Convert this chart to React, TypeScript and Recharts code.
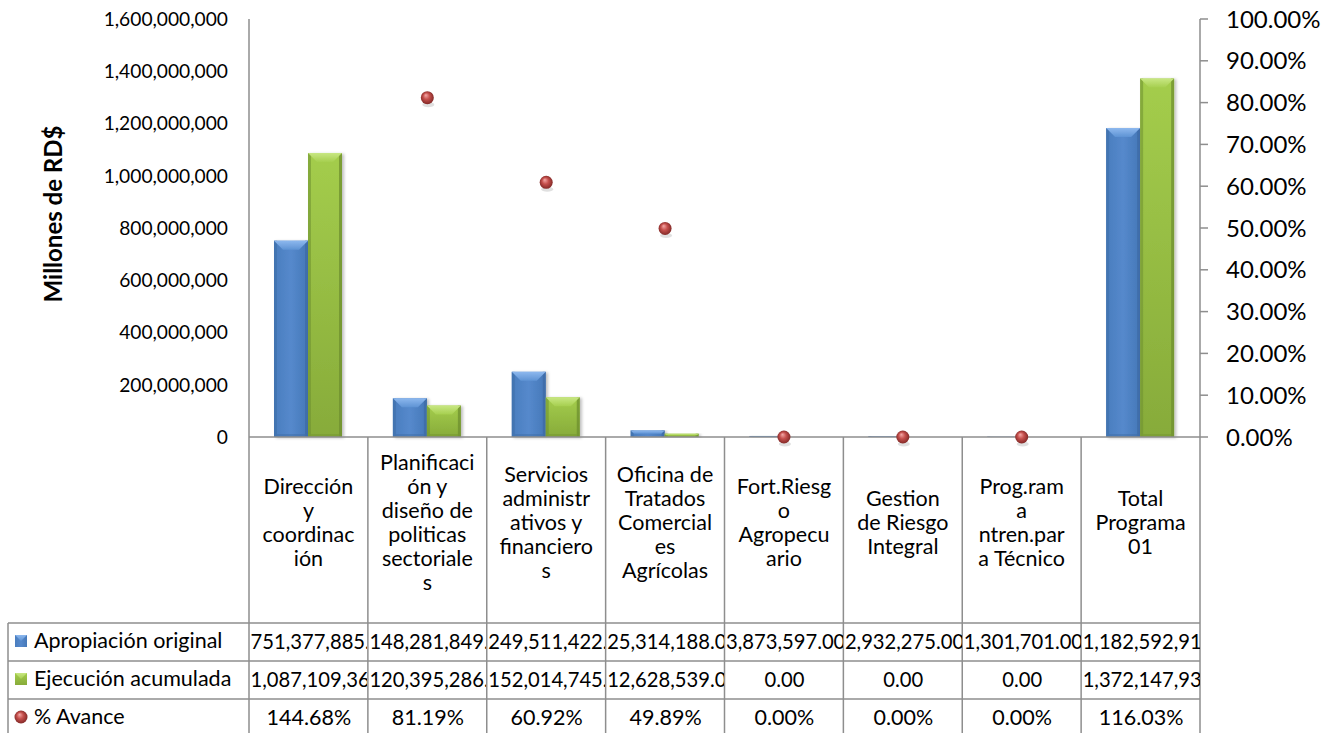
import React from 'react';
import { ComposedChart, Bar, Scatter, XAxis, YAxis } from 'recharts';

// ---------- data ----------
const categories = [
  'Dirección y coordinación',
  'Planificación y diseño de politicas sectoriales',
  'Servicios administrativos y financieros',
  'Oficina de Tratados Comerciales Agrícolas',
  'Fort.Riesgo Agropecuario',
  'Gestion de Riesgo Integral',
  'Prog.rama ntren.para Técnico',
  'Total Programa 01',
];
const categoryLines = [
  ['Dirección', 'y', 'coordinac', 'ión'],
  ['Planificaci', 'ón y', 'diseño de', 'politicas', 'sectoriale', 's'],
  ['Servicios', 'administr', 'ativos y', 'financiero', 's'],
  ['Oficina de', 'Tratados', 'Comercial', 'es', 'Agrícolas'],
  ['Fort.Riesg', 'o', 'Agropecu', 'ario'],
  ['Gestion', 'de Riesgo', 'Integral'],
  ['Prog.ram', 'a', 'ntren.par', 'a Técnico'],
  ['Total', 'Programa', '01'],
];
const apropiacion = [751377885, 148281849, 249511422, 25314188, 3873597, 2932275, 1301701, 1182592917];
const ejecucion = [1087109360, 120395286, 152014745, 12628539, 0, 0, 0, 1372147930];
const avance = [1.4468, 0.8119, 0.6092, 0.4989, 0, 0, 0, 1.1603];
const leftTicks = [0, 200000000, 400000000, 600000000, 800000000, 1000000000, 1200000000, 1400000000, 1600000000];
const rightTicks = [0, 0.1, 0.2, 0.3, 0.4, 0.5, 0.6, 0.7, 0.8, 0.9, 1];
const seriesNames = ['Apropiación original', 'Ejecución acumulada', '% Avance'];

const data = categories.map((cat, i) => ({
  cat,
  apropiacion: apropiacion[i],
  ejecucion: ejecucion[i],
  avance: avance[i],
  avancePlot: avance[i] <= 1 ? avance[i] : null,
}));

// ---------- layout ----------
const W = 1337;
const H = 733;
const PLOT_LEFT = 249;
const PLOT_RIGHT = 1200;
const PLOT_TOP = 19;
const AXIS_Y = 437;
const TABLE_TOP = 623;
const ROW_H = 38;
const TABLE_LEFT = 8;
const LEFT_AXIS_W = 150;
const RIGHT_AXIS_W = 120;
const FONT = 'Lato, "Open Sans", sans-serif';
const FS_AXIS = 19.2;
const FS_NUM = 20.2;
const FS_TEXT = 21.5;
const FS_RIGHT = 24;
const GRID = '#8E8E8E';

const fmtMoney = (v: number) =>
  v.toLocaleString('en-US', { minimumFractionDigits: 2, maximumFractionDigits: 2 });
const fmtPct = (v: number) => (v * 100).toFixed(2) + '%';
const fmtInt = (v: number) => v.toLocaleString('en-US');

const palettes = {
  blue: { body: 'url(#blueBody)', top: 'url(#blueTop)', edge: '#3D6BA6', bottom: '#3E6DA8' },
  green: { body: 'url(#greenBody)', top: 'url(#greenTop)', edge: '#6E8F2F', bottom: '#73952F' },
};

const BevelBar = (props: any) => {
  const { x, y, width, height, pal } = props;
  if (!height || height <= 0 || !width) return <g />;
  const p = palettes[pal as 'blue' | 'green'];
  const b = Math.min(9, height / 2);
  const e = Math.min(3, width / 4);
  return (
    <g filter="url(#barShadow)">
      <rect x={x} y={y} width={width} height={height} fill={p.body} />
      <rect x={x} y={y} width={e} height={height} fill={p.edge} opacity={0.55} />
      <rect x={x + width - e} y={y} width={e} height={height} fill={p.edge} opacity={0.75} />
      <path
        d={`M${x},${y} L${x + width},${y} L${x + width - b},${y + b} L${x + b},${y + b} Z`}
        fill={p.top}
      />
      {height > 2 * b && (
        <rect x={x + e} y={y + height - Math.min(3, b)} width={width - 2 * e} height={Math.min(3, b)} fill={p.bottom} opacity={0.5} />
      )}
    </g>
  );
};

const Ball = (props: any) => {
  const { cx, cy, payload } = props;
  if (cx == null || cy == null || isNaN(cy) || payload == null || payload.avance > 1) return <g />;
  return (
    <g>
      <ellipse cx={cx + 1} cy={cy + 7} rx={6} ry={2.5} fill="#000" opacity={0.12} />
      <circle cx={cx} cy={cy} r={6.5} fill="url(#ballGrad)" />
    </g>
  );
};

const CatTick = (props: any) => {
  const { x, y, payload } = props;
  const idx = categories.indexOf(payload.value);
  const lines = categoryLines[idx] || [];
  const center = y + 85;
  const first = center - ((lines.length - 1) * 24) / 2 + 7.5;
  return (
    <text textAnchor="middle" fontFamily={FONT} fontSize={FS_TEXT} fill="#000">
      {lines.map((l, i) => (
        <tspan key={i} x={x} y={first + i * 24}>
          {l}
        </tspan>
      ))}
    </text>
  );
};

const Defs = () => (
  <defs>
    <linearGradient id="blueBody" x1="0" y1="0" x2="1" y2="0">
      <stop offset="0%" stopColor="#4A7DBE" />
      <stop offset="50%" stopColor="#5589CC" />
      <stop offset="100%" stopColor="#4678B8" />
    </linearGradient>
    <linearGradient id="blueTop" x1="0" y1="0" x2="0" y2="1">
      <stop offset="0%" stopColor="#8DB8EE" />
      <stop offset="100%" stopColor="#5E93D4" />
    </linearGradient>
    <linearGradient id="greenBody" x1="0" y1="0" x2="0" y2="1">
      <stop offset="0%" stopColor="#A4CD4C" />
      <stop offset="100%" stopColor="#87AB3A" />
    </linearGradient>
    <linearGradient id="greenTop" x1="0" y1="0" x2="0" y2="1">
      <stop offset="0%" stopColor="#C8E783" />
      <stop offset="100%" stopColor="#A6CF4F" />
    </linearGradient>
    <radialGradient id="ballGrad" cx="50%" cy="50%" r="55%" fx="38%" fy="30%">
      <stop offset="0%" stopColor="#F4AAA8" />
      <stop offset="45%" stopColor="#C6504D" />
      <stop offset="100%" stopColor="#7A2422" />
    </radialGradient>
    <filter id="barShadow" x="-20%" y="-5%" width="150%" height="115%">
      <feDropShadow dx="2" dy="1" stdDeviation="1.5" floodColor="#000" floodOpacity="0.25" />
    </filter>
  </defs>
);

const LegendKey = ({ kind, x, y }: { kind: number; x: number; y: number }) => {
  if (kind === 2) return <circle cx={x + 6} cy={y} r={6.5} fill="url(#ballGrad)" />;
  const body = kind === 0 ? 'url(#blueBody)' : 'url(#greenBody)';
  const top = kind === 0 ? 'url(#blueTop)' : 'url(#greenTop)';
  return (
    <g>
      <rect x={x} y={y - 6} width={12} height={12} fill={body} />
      <path d={`M${x},${y - 6} L${x + 12},${y - 6} L${x + 6},${y} Z`} fill={top} />
    </g>
  );
};

export default function App() {
  const n = categories.length;
  const colW = (PLOT_RIGHT - PLOT_LEFT) / n;
  const rows = [
    apropiacion.map(fmtMoney),
    ejecucion.map(fmtMoney),
    avance.map(fmtPct),
  ];
  return (
    <div style={{ position: 'absolute', left: 0, top: 0, width: W, height: H, background: '#fff', fontFamily: FONT, overflow: 'hidden' }}>
      <ComposedChart
        width={W}
        height={H}
        data={data}
        margin={{
          top: PLOT_TOP,
          left: PLOT_LEFT - LEFT_AXIS_W,
          right: W - PLOT_RIGHT - RIGHT_AXIS_W,
          bottom: H - TABLE_TOP,
        }}
        barGap={0}
      >
        <Defs />
        <XAxis
          dataKey="cat"
          height={TABLE_TOP - AXIS_Y}
          interval={0}
          tickSize={0}
          tickMargin={0}
          tick={<CatTick />}
          axisLine={{ stroke: GRID, strokeWidth: 1.5 }}
          tickLine={false}
        />
        <YAxis
          yAxisId="left"
          width={LEFT_AXIS_W}
          domain={[0, 1600000000]}
          ticks={leftTicks}
          tickFormatter={fmtInt}
          tickLine={false}
          tickSize={0}
          tickMargin={21}
          axisLine={{ stroke: GRID, strokeWidth: 1.5 }}
          tick={{ fill: '#000', fontSize: FS_AXIS, fontFamily: FONT }}
        />
        <YAxis
          yAxisId="right"
          orientation="right"
          width={RIGHT_AXIS_W}
          domain={[0, 1]}
          ticks={rightTicks}
          tickFormatter={fmtPct}
          tickSize={8}
          tickMargin={18}
          axisLine={{ stroke: GRID, strokeWidth: 1.5 }}
          tickLine={{ stroke: GRID, strokeWidth: 1.5 }}
          tick={{ fill: '#000', fontSize: FS_RIGHT, fontFamily: FONT }}
        />
        <Bar
          yAxisId="left"
          dataKey="apropiacion"
          name={seriesNames[0]}
          barSize={34}
          isAnimationActive={false}
          shape={(p: any) => <BevelBar {...p} pal="blue" />}
        />
        <Bar
          yAxisId="left"
          dataKey="ejecucion"
          name={seriesNames[1]}
          barSize={34}
          isAnimationActive={false}
          shape={(p: any) => <BevelBar {...p} pal="green" />}
        />
        <Scatter
          yAxisId="right"
          dataKey="avancePlot"
          name={seriesNames[2]}
          isAnimationActive={false}
          shape={(p: any) => <Ball {...p} />}
        />
      </ComposedChart>

      {/* axis title + data table */}
      <svg width={W} height={H} style={{ position: 'absolute', left: 0, top: 0, pointerEvents: 'none' }}>
        <Defs />
        <text
          transform={`translate(62, 214) rotate(-90)`}
          textAnchor="middle"
          fontFamily={FONT}
          fontWeight="bold"
          fontSize={24}
          fill="#000"
        >
          Millones de RD$
        </text>
        {Array.from({ length: n + 1 }, (_, i) => (
          <line
            key={'v' + i}
            x1={PLOT_LEFT + i * colW}
            x2={PLOT_LEFT + i * colW}
            y1={AXIS_Y}
            y2={H}
            stroke={GRID}
            strokeWidth={1.5}
          />
        ))}
        <line x1={TABLE_LEFT} x2={TABLE_LEFT} y1={TABLE_TOP} y2={H} stroke={GRID} strokeWidth={1.5} />
        {[0, 1, 2, 3].map((r) => (
          <line
            key={'h' + r}
            x1={TABLE_LEFT}
            x2={PLOT_RIGHT}
            y1={TABLE_TOP + r * ROW_H}
            y2={TABLE_TOP + r * ROW_H}
            stroke={GRID}
            strokeWidth={1.5}
          />
        ))}
        {seriesNames.map((_, r) => (
          <LegendKey key={'k' + r} kind={r} x={15} y={TABLE_TOP + r * ROW_H + ROW_H / 2 - 1} />
        ))}
      </svg>
      {seriesNames.map((name, r) => (
        <div
          key={'l' + r}
          style={{
            position: 'absolute',
            left: 34,
            top: TABLE_TOP + r * ROW_H - 2,
            height: ROW_H,
            lineHeight: ROW_H + 'px',
            fontSize: FS_TEXT,
            color: '#000',
            whiteSpace: 'nowrap',
          }}
        >
          {name}
        </div>
      ))}
      {rows.map((vals, r) =>
        vals.map((txt, c) => (
          <div
            key={r + '-' + c}
            style={{
              position: 'absolute',
              left: PLOT_LEFT + c * colW + 1.5,
              width: colW - 2,
              top: TABLE_TOP + r * ROW_H - 1,
              height: ROW_H,
              lineHeight: ROW_H + 'px',
              fontSize: r === 2 ? FS_TEXT : FS_NUM,
              color: '#000',
              whiteSpace: 'nowrap',
              overflow: 'hidden',
              textAlign: 'center',
            }}
          >
            {txt}
          </div>
        ))
      )}
    </div>
  );
}
